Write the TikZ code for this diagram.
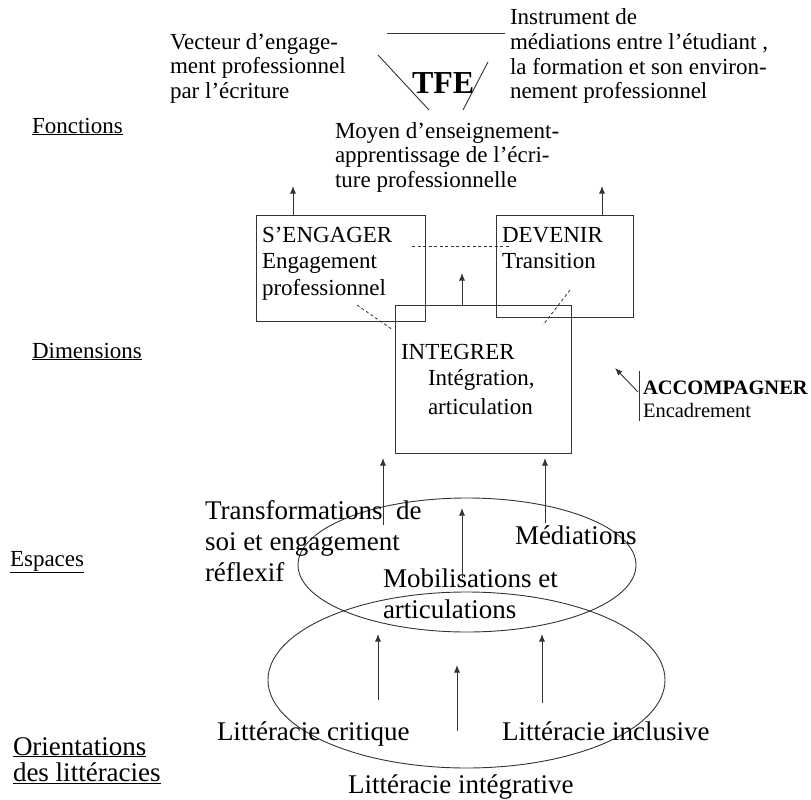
\documentclass[tikz,border=0pt]{standalone}
\usepackage{fontspec}
\setmainfont{Liberation Serif}
\usetikzlibrary{arrows.meta}
\newcommand\ftop{\fontsize{23}{24.6}\selectfont}
\newcommand\fbx{\fontsize{23}{26.8}\selectfont}
\newcommand\flow{\fontsize{27}{31}\selectfont}
\newcommand\facc{\fontsize{20.5}{23}\selectfont}
\newcommand\lns[1]{\begin{tabular}[t]{@{}l@{}}#1\end{tabular}}
\begin{document}
\begin{tikzpicture}[x=1pt,y=-1pt,
  txt/.style={anchor=base west, inner sep=0pt, outer sep=0pt},
  boxst/.style={draw=black!80, line width=0.9pt, inner sep=0pt},
  arr/.style={draw=black!80, line width=0.9pt, -{Latex[length=7.5pt,width=6pt]}},
  dsh/.style={draw=black!80, line width=0.8pt, dash pattern=on 3pt off 2.5pt},
  ln/.style={draw=black!80, line width=0.9pt}]
\useasboundingbox (0,0) rectangle (811,800);

% ---- top: TFE triangle and functions
\coordinate (t1) at (387,33);  \coordinate (t2) at (505,33);
\coordinate (t3) at (378,55);  \coordinate (t4) at (429,110);
\coordinate (t5) at (463,110); \coordinate (t6) at (488,62);
\draw[ln] (t1) -- (t2);
\draw[ln] (t3) -- (t4);
\draw[ln] (t5) -- (t6);
\node[txt, font=\fontsize{32}{34}\selectfont\bfseries] (tfe) at (412,93) {TFE};

\node[txt, font=\ftop] (vect) at (170,49) {\lns{Vecteur d’engage-\\ment professionnel\\par l’écriture}};
\node[txt, font=\ftop] (instr) at (510,25) {\lns{Instrument de\\médiations entre l’étudiant ,\\la formation et son environ-\\nement professionnel}};
\node[txt, font=\ftop] (moyen) at (335,138) {\lns{Moyen d’enseignement-\\apprentissage de l’écri-\\ture professionnelle}};

% ---- left labels
\node[txt, font=\fontsize{23}{25}\selectfont] (fonc) at (32,133) {\underline{Fonctions}};
\node[txt, font=\fontsize{23}{25}\selectfont] (dim) at (32,358) {\underline{Dimensions}};
\node[txt, font=\fontsize{23}{25}\selectfont] (esp) at (10,566) {\underline{Espaces}};
\node[txt, font=\fontsize{27}{25.5}\selectfont] (orient) at (13,755) {\lns{\underline{Orientations}\\\underline{des littéracies}}};

% ---- dimension boxes
\node[boxst, minimum width=169pt, minimum height=106pt] (seng) at (340.5,268) {};
\node[boxst, minimum width=137pt, minimum height=102pt] (dev) at (564.5,266) {};
\node[boxst, minimum width=176pt, minimum height=148pt] (integ) at (483,379) {};

\node[txt, font=\fbx] (sengt) at (262,242) {\lns{S’ENGAGER\\Engagement\\professionnel}};
\node[txt, font=\fbx] (devt) at (502,242) {\lns{DEVENIR\\Transition}};
\node[txt, font=\fbx] (integt) at (401,359) {INTEGRER};
\node[txt, font=\fontsize{23}{29.5}\selectfont] (integs) at (428,385) {\lns{Intégration,\\articulation}};

\coordinate (sengup) at (293,186);
\coordinate (devup) at (602,186);
\coordinate (integup) at (462,273);
\draw[arr] (seng.north -| sengup) -- (sengup);
\draw[arr] (dev.north -| devup) -- (devup);
\draw[arr] (integ.north -| integup) -- (integup);

\coordinate (d1) at (412,246); \coordinate (d2) at (510,246);
\coordinate (d3) at (357,305); \coordinate (d4) at (393,330);
\coordinate (d5) at (570,290); \coordinate (d6) at (543,325);
\draw[dsh] (d1) -- (d2);
\draw[dsh] (d3) -- (d4);
\draw[dsh] (d5) -- (d6);

% ---- accompagner
\coordinate (acc1) at (639,371); \coordinate (acc2) at (639,421);
\coordinate (acc3) at (638,392); \coordinate (acc4) at (615,368);
\draw[ln] (acc1) -- (acc2);
\draw[arr] (acc3) -- (acc4);
\node[txt, font=\facc] (acc) at (643,394) {\lns{\textbf{ACCOMPAGNER}\\Encadrement}};

% ---- espaces
\draw[ln] (467,565) ellipse [x radius=169, y radius=67];
\draw[ln] (466.5,680) ellipse [x radius=198.5, y radius=88];

\node[txt, font=\flow] (transf) at (205,519) {\lns{Transformations~ de\\soi et engagement\\réflexif}};
\node[txt, font=\flow] (med) at (515,544) {Médiations};
\node[txt, font=\flow] (mob) at (383,587) {\lns{Mobilisations et\\articulations}};

\coordinate (a1s) at (383,525); \coordinate (a1e) at (383,458);
\coordinate (a2s) at (545,523); \coordinate (a2e) at (545,458);
\coordinate (a3s) at (462,578); \coordinate (a3e) at (462,508);
\draw[arr] (a1s) -- (a1e);
\draw[arr] (a2s) -- (a2e);
\draw[arr] (a3s) -- (a3e);

% ---- litteracies
\node[txt, font=\flow] (lcrit) at (217,740) {Littéracie critique};
\node[txt, font=\flow] (lincl) at (502,740) {Littéracie inclusive};
\node[txt, font=\flow] (linteg) at (348,793) {Littéracie intégrative};

\coordinate (b1s) at (378,700); \coordinate (b1e) at (378,634);
\coordinate (b2s) at (457,731); \coordinate (b2e) at (457,665);
\coordinate (b3s) at (542,703); \coordinate (b3e) at (542,634);
\draw[arr] (b1s) -- (b1e);
\draw[arr] (b2s) -- (b2e);
\draw[arr] (b3s) -- (b3e);
\end{tikzpicture}
\end{document}
